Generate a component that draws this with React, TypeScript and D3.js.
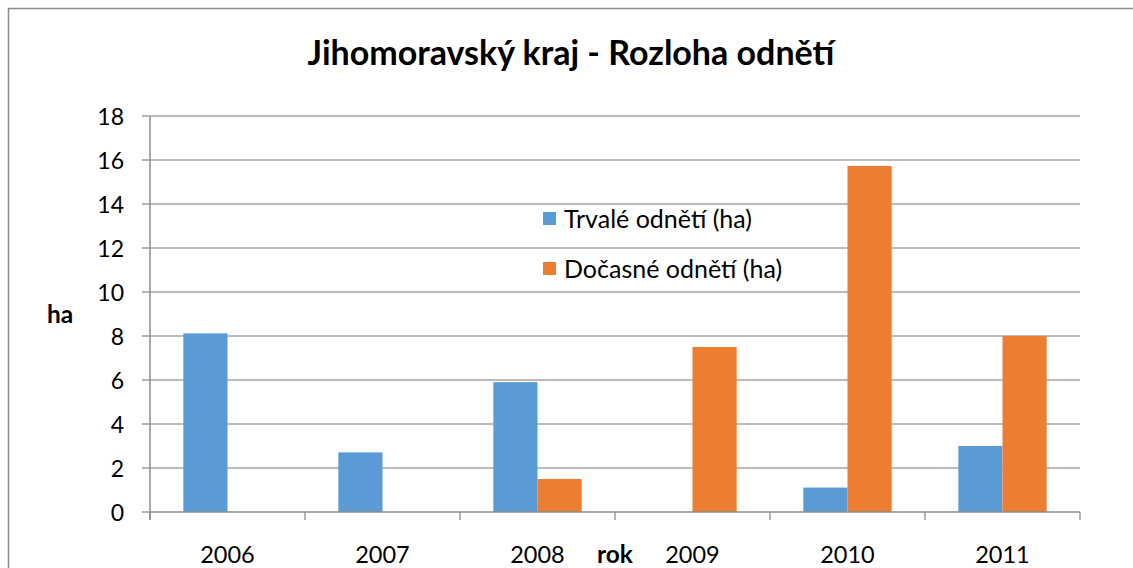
import React from "react";
import * as d3 from "d3";

const years = ["2006", "2007", "2008", "2009", "2010", "2011"];
const trvale = [8.12, 2.71, 5.9, 0, 1.11, 3.0];
const docasne = [0, 0, 1.5, 7.5, 15.73, 8.0];
const seriesNames = ["Trvalé odnětí (ha)", "Dočasné odnětí (ha)"];
const yTicks = [0, 2, 4, 6, 8, 10, 12, 14, 16, 18];

const W = 1133;
const H = 568;
const left = 150;
const right = 1080;
const top = 116;
const bottom = 512;
const colors = ["#5b9bd5", "#ed7d31"];
const FONT = "Lato, 'Open Sans', sans-serif";

export default function App() {
  const x0 = d3.scaleBand<string>().domain(years).range([left, right]).padding(0);
  const bw = x0.bandwidth();
  const x1 = d3
    .scaleBand<number>()
    .domain([0, 1])
    .range([bw * 0.215, bw * 0.785])
    .padding(0);
  const y = d3.scaleLinear().domain([0, 18]).range([bottom, top]);
  const series = [trvale, docasne];
  const bounds = [...years.map((yr) => x0(yr) as number), right];

  return (
    <div style={{ position: "absolute", left: 0, top: 0 }}>
      <svg width={W} height={H} style={{ display: "block" }}>
        <rect x={0} y={0} width={W} height={H} fill="#fff" />
        <rect x={8.5} y={8.5} width={1140} height={580} fill="#fff" stroke="#8c8c8c" strokeWidth={1.5} />
        <text
          x={571}
          y={65}
          textAnchor="middle"
          fontFamily={FONT}
          fontWeight="bold"
          fontSize={34}
          fill="#000"
        >
          Jihomoravský kraj - Rozloha odnětí
        </text>
        {yTicks.map((t) => (
          <g key={t}>
            {t > 0 && (
              <line x1={left} x2={right} y1={y(t)} y2={y(t)} stroke="#a6a6a6" strokeWidth={1.3} />
            )}
            <line x1={left - 8} x2={left} y1={y(t)} y2={y(t)} stroke="#8c8c8c" strokeWidth={1.3} />
            <text
              x={124}
              y={y(t) + 8.5}
              textAnchor="end"
              fontFamily={FONT}
              fontSize={23}
              fill="#000"
            >
              {t}
            </text>
          </g>
        ))}
        {series.map((vals, si) =>
          years.map((yr, i) =>
            vals[i] > 0 ? (
              <rect
                key={`${si}-${yr}`}
                x={(x0(yr) as number) + (x1(si) as number)}
                y={y(vals[i])}
                width={x1.bandwidth()}
                height={y(0) - y(vals[i])}
                fill={colors[si]}
              />
            ) : null
          )
        )}
        <line x1={left} x2={left} y1={top} y2={bottom + 8} stroke="#8c8c8c" strokeWidth={1.5} />
        <line x1={left} x2={right} y1={bottom} y2={bottom} stroke="#8c8c8c" strokeWidth={1.5} />
        {bounds.map((b, i) => (
          <line key={i} x1={b} x2={b} y1={bottom} y2={bottom + 8} stroke="#8c8c8c" strokeWidth={1.3} />
        ))}
        {years.map((yr) => (
          <text
            key={yr}
            x={(x0(yr) as number) + bw / 2}
            y={563}
            textAnchor="middle"
            fontFamily={FONT}
            fontSize={23.5}
            fill="#000"
          >
            {yr}
          </text>
        ))}
        <text x={47} y={323} fontFamily={FONT} fontWeight="bold" fontSize={24.5} fill="#000">
          ha
        </text>
        <text x={615} y={563} textAnchor="middle" fontFamily={FONT} fontWeight="bold" fontSize={24.5} fill="#000">
          rok
        </text>
        {seriesNames.map((n, i) => (
          <g key={n}>
            <rect x={543} y={212 + i * 50} width={13} height={13} fill={colors[i]} />
            <text x={564} y={228 + i * 50} fontFamily={FONT} fontSize={25} fill="#000">
              {n}
            </text>
          </g>
        ))}
      </svg>
    </div>
  );
}
